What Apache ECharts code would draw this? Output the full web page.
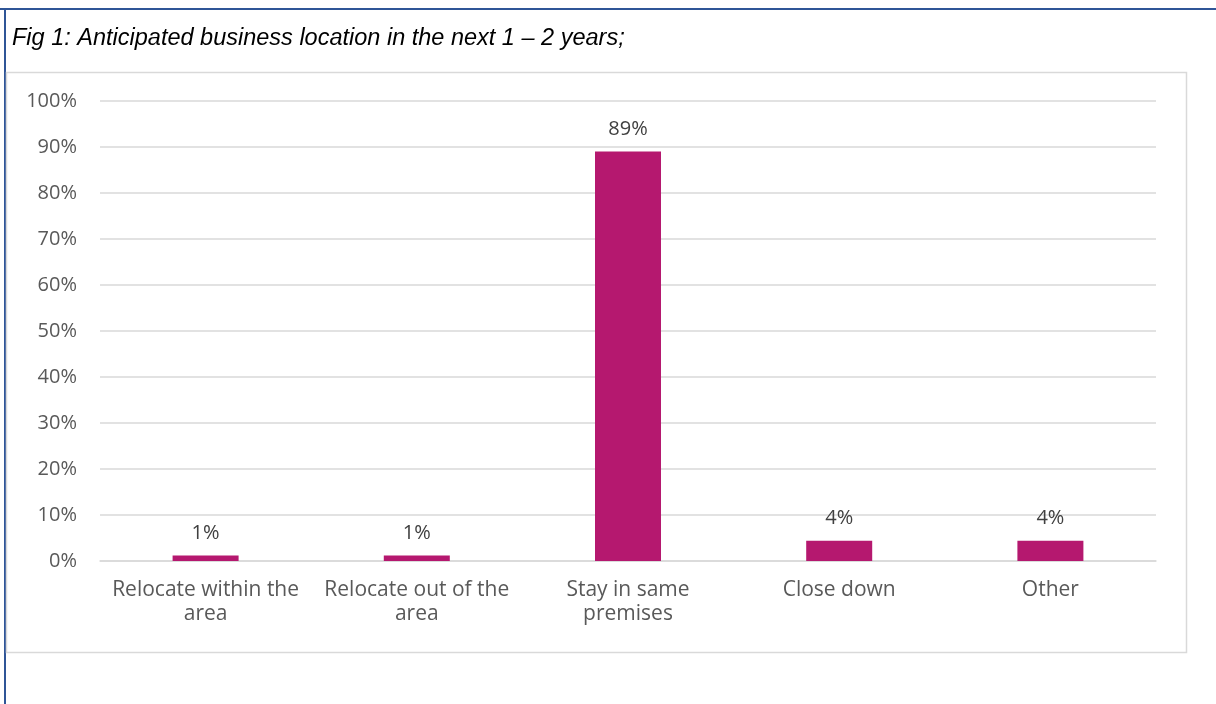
<!DOCTYPE html>
<html>
<head>
<meta charset="UTF-8">
<title>Anticipated business location</title>
<script src="https://cdn.jsdelivr.net/npm/echarts@6/dist/echarts.min.js"></script>
<style>
    html,body{margin:0;padding:0;background:#fff;}
    #chart{width:1216px;height:704px;}
</style>
</head>
<body>
<div id="chart"></div>
<script>
var categories = ['Relocate within the\narea', 'Relocate out of the\narea', 'Stay in same\npremises', 'Close down', 'Other'];
var shares = [1.2, 1.2, 89, 4.4, 4.4];
var yTicks = [0, 100, 10];   // min, max, step

var chart = echarts.init(document.getElementById('chart'));

chart.setOption({
    animation: false,
    title: {
        text: 'Fig 1: Anticipated business location in the next 1 \u2013 2 years;',
        left: 7, top: 22,
        textStyle: {fontFamily: 'Liberation Sans', fontStyle: 'italic', fontWeight: 'normal', fontSize: 23.5, color: '#000'}
    },
    graphic: [
        // outer blue frame (top + left)
        {type: 'rect', shape: {x: 0, y: 8, width: 1216, height: 2}, style: {fill: '#2F5597'}},
        {type: 'rect', shape: {x: 4, y: 8, width: 2, height: 696}, style: {fill: '#2F5597'}},
        // inner chart area frame
        {type: 'rect', shape: {x: 6.5, y: 72.5, width: 1180, height: 580}, style: {fill: 'none', stroke: '#D9D9D9', lineWidth: 1.5}}
    ],
    grid: {left: 100, right: 60, top: 101, bottom: 143},
    xAxis: {
        type: 'category',
        data: categories,
        axisLine: {lineStyle: {color: '#D9D9D9', width: 1.5}},
        axisTick: {show: false},
        axisLabel: {interval: 0, color: '#595959', fontFamily: 'Open Sans', fontSize: 21, lineHeight: 24, margin: 17}
    },
    yAxis: {
        type: 'value',
        min: yTicks[0], max: yTicks[1], interval: yTicks[2],
        axisLine: {show: false},
        axisTick: {show: false},
        splitLine: {lineStyle: {color: '#D9D9D9', width: 1.5}},
        axisLabel: {color: '#595959', fontFamily: 'Open Sans', fontSize: 20, margin: 23, formatter: '{value}%'}
    },
    series: [{
        type: 'bar',
        data: shares,
        barWidth: 66,
        itemStyle: {color: '#B5186F'},
        label: {
            show: true, position: 'top', distance: 12,
            color: '#404040', fontFamily: 'Open Sans', fontSize: 20,
            formatter: function (p) { return Math.round(p.value) + '%'; }
        }
    }]
});
</script>
</body>
</html>
